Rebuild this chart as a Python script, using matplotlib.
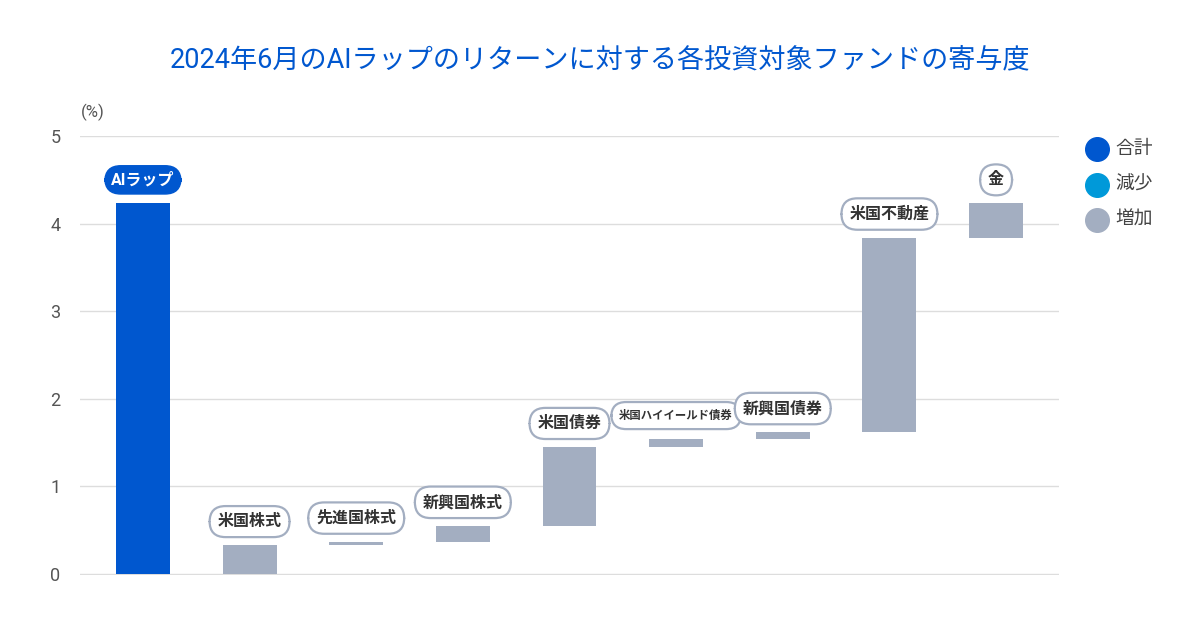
import matplotlib.pyplot as plt
from matplotlib.lines import Line2D

plt.rcParams['font.family'] = ['Roboto', 'Noto Sans CJK JP', 'DejaVu Sans']

categories = ['AIラップ', '米国株式', '先進国株式', '新興国株式', '米国債券',
              '米国ハイイールド債券', '新興国債券', '米国不動産', '金']
bottoms = [0.0, 0.0, 0.33, 0.37, 0.55, 1.45, 1.54, 1.62, 3.84]
tops = [4.23, 0.33, 0.37, 0.55, 1.45, 1.54, 1.62, 3.84, 4.23]
kinds = ['合計', '増加', '増加', '増加', '増加', '増加', '増加', '増加', '増加']

colors = {'合計': '#0057cf', '減少': '#0099d9', '増加': '#a3aec1'}
yticks = [0, 1, 2, 3, 4, 5]

fig = plt.figure(figsize=(12, 6.4), dpi=100)
ax = fig.add_axes([80 / 1200, 65 / 640, 979 / 1200, 439 / 640])

x = list(range(len(categories)))
heights = [t - b for t, b in zip(tops, bottoms)]
ax.bar(x, heights, bottom=bottoms, width=0.506,
       color=[colors[k] for k in kinds], zorder=3)

for i, name in enumerate(categories):
    if kinds[i] == '合計':
        box = dict(boxstyle='round,pad=0.4,rounding_size=1.0', fc=colors['合計'], ec=colors['合計'])
        tc = 'white'
    elif len(name) > 6:
        box = dict(boxstyle='round,pad=0.7,rounding_size=1.3', fc='white', ec='#a3aec1', lw=1.6)
        tc = '#333333'
    else:
        box = dict(boxstyle='round,pad=0.5,rounding_size=1.0', fc='white', ec='#a3aec1', lw=1.6)
        tc = '#333333'
    fs = 8.2 if len(name) > 6 else 11.5
    ax.annotate(name, (i, tops[i]), xytext=(0, 17), textcoords='offset points',
                ha='center', va='center', fontsize=fs, fontweight='bold',
                color=tc, bbox=box, zorder=5)

ax.set_xlim(-0.59, 8.59)
ax.set_ylim(-0.01, 5)
ax.set_yticks(yticks)
ax.set_yticklabels([str(v) for v in yticks])
ax.set_xticks([])
ax.tick_params(axis='y', length=0, pad=14, labelsize=13, labelcolor='#555555')
ax.grid(axis='y', color='#dddddd', lw=1, zorder=0)
for s in ax.spines.values():
    s.set_visible(False)

fig.text(93 / 1200, 1 - 112 / 640, '(%)', ha='center', va='center', fontsize=12, color='#555555')
fig.text(0.5, 1 - 60 / 640, '2024年6月のAIラップのリターンに対する各投資対象ファンドの寄与度',
         ha='center', va='center', fontsize=19.5, color='#0057cf')

# legend
for j, k in enumerate(['合計', '減少', '増加']):
    yy = 1 - (149 + 35.5 * j) / 640
    fig.add_artist(Line2D([1097 / 1200], [yy], marker='o', markersize=17,
                          color=colors[k], transform=fig.transFigure))
    fig.text(1115 / 1200, yy, k, ha='left', va='center', fontsize=13.5, color='#444444')

plt.savefig('out.png')
